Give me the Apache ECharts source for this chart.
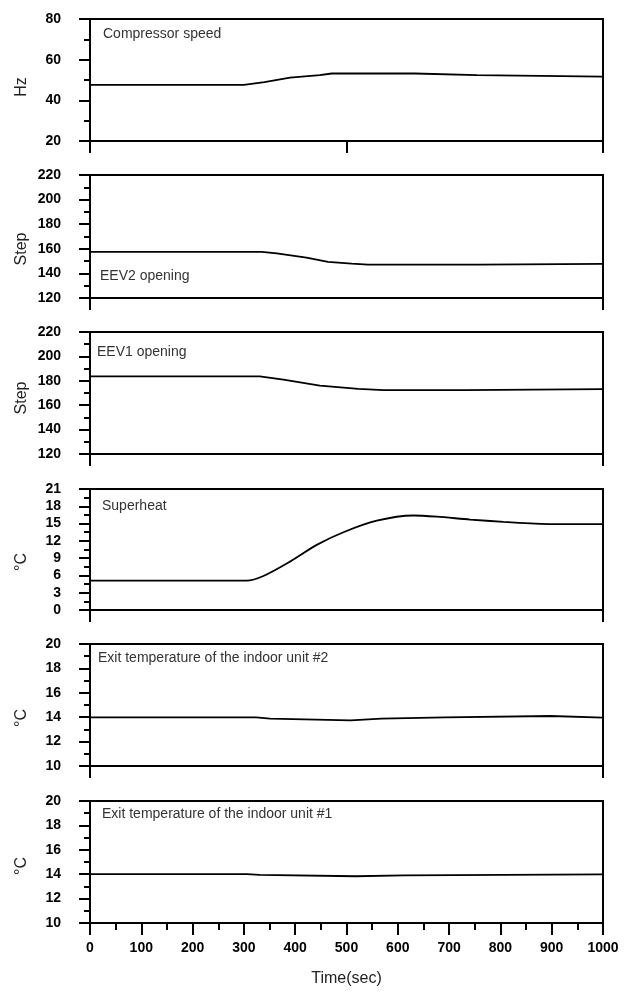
<!DOCTYPE html>
<html>
<head>
<meta charset="utf-8">
<title>Compressor / EEV response</title>
<script src="https://cdn.jsdelivr.net/npm/echarts@6/dist/echarts.min.js"></script>
<style>
  html, body { margin: 0; padding: 0; background: #fff; }
  #main { width: 628px; height: 992px; }
</style>
</head>
<body>
<div id="main"></div>
<script>
// values, time in sec
var speedTime = [0, 300, 340, 390, 448, 471, 633, 636, 754, 757, 1000];
var speedHz   = [47.6, 47.6, 49.0, 51.2, 52.4, 53.2, 53.2, 52.4, 52.4, 51.7, 51.7];

var eev2Time = [0, 335, 364, 422, 464, 510, 542, 758, 760, 1000];
var eev2Step = [157.5, 157.5, 156.2, 152.9, 149.3, 148.0, 147.2, 147.2, 147.7, 147.7];

var eev1Time = [0, 331, 377, 448, 523, 573, 728, 730, 1000];
var eev1Step = [183.7, 183.7, 181.0, 176.1, 173.4, 172.3, 172.3, 173.1, 173.1];

var shTime = [0, 305, 338, 390, 442, 494, 559, 630, 676, 741, 806, 858, 923, 1000];
var shTemp = [5.1, 5.1, 5.9, 8.4, 11.3, 13.5, 15.5, 16.4, 16.2, 15.7, 15.3, 15.05, 14.9, 14.9];

// the two exit temperatures move in small steps
var exit2Time = [0, 324, 324, 351, 351, 508, 508, 568, 568, 692, 692, 898, 898, 1000];
var exit2Temp = [13.98, 13.98, 13.88, 13.88, 13.74, 13.74, 13.88, 13.88, 13.98, 13.98, 14.1, 14.1, 13.96, 13.96];

var exit1Time = [0, 306, 306, 331, 331, 518, 518, 612, 612, 1000];
var exit1Temp = [14.0, 14.0, 13.95, 13.95, 13.83, 13.83, 13.91, 13.91, 13.99, 13.99];

function zip(t, v) {
  return t.map(function (x, i) { return [x, v[i]]; });
}

var panels = [
  { title: 'Compressor speed', unit: 'Hz', min: 20, max: 80, step: 20, data: zip(speedTime, speedHz),
    top: 19, h: 122, tx: 103, ty: 27, ny: 87 },
  { title: 'EEV2 opening', unit: 'Step', min: 120, max: 220, step: 20, data: zip(eev2Time, eev2Step),
    top: 175, h: 123, tx: 100, ty: 269, ny: 249 },
  { title: 'EEV1 opening', unit: 'Step', min: 120, max: 220, step: 20, data: zip(eev1Time, eev1Step),
    top: 332, h: 122, tx: 97, ty: 345, ny: 398 },
  { title: 'Superheat', unit: '°C', min: 0, max: 21, step: 3, data: zip(shTime, shTemp), smooth: 0.3,
    top: 489, h: 121, tx: 102, ty: 499, ny: 562 },
  { title: 'Exit temperature of the indoor unit #2', unit: '°C', min: 10, max: 20, step: 2,
    data: zip(exit2Time, exit2Temp), top: 644, h: 122, tx: 98, ty: 651, ny: 718 },
  { title: 'Exit temperature of the indoor unit #1', unit: '°C', min: 10, max: 20, step: 2,
    data: zip(exit1Time, exit1Temp), top: 801, h: 122, tx: 102, ty: 807, ny: 866 }
];

var sans = "'Liberation Sans', Arial, sans-serif";
var black = { color: '#000', width: 2 };

var grids = [], xAxes = [], yAxes = [], series = [], titles = [], texts = [];

panels.forEach(function (p, i) {
  var last = i === panels.length - 1;
  grids.push({ left: 90, width: 513, top: p.top, height: p.h, show: true,
    borderColor: '#000', borderWidth: 2, backgroundColor: 'transparent' });

  xAxes.push({
    type: 'value', gridIndex: i, min: 0, max: 1000,
    interval: last ? 100 : (i === 0 ? 500 : 1000),
    axisLine: { lineStyle: black },
    axisTick: { length: 12, lineStyle: black },
    minorTick: { show: last, splitNumber: 2, length: 7, lineStyle: black },
    splitLine: { show: false },
    axisLabel: { show: last, margin: 18, color: '#000', fontFamily: sans,
      fontWeight: 'bold', fontSize: 14,
      formatter: function (v) { return String(v); } },
    name: last ? 'Time(sec)' : '', nameLocation: 'middle', nameGap: 48,
    nameTextStyle: { color: '#222', fontSize: 16, fontFamily: sans }
  });

  yAxes.push({
    type: 'value', gridIndex: i, min: p.min, max: p.max, interval: p.step,
    axisLine: { show: true, lineStyle: black },
    axisTick: { length: 11, lineStyle: black },
    minorTick: { show: true, splitNumber: 2, length: 6, lineStyle: black },
    splitLine: { show: false },
    axisLabel: { margin: 29, color: '#000', fontFamily: sans, fontWeight: 'bold', fontSize: 14 }
  });

  series.push({
    type: 'line', xAxisIndex: i, yAxisIndex: i, data: p.data,
    showSymbol: false, smooth: p.smooth || false,
    lineStyle: { color: '#000', width: 1.8 }
  });

  titles.push({ text: p.title, left: p.tx, top: p.ty, padding: 0,
    textStyle: { fontSize: 14, fontWeight: 'normal', color: '#333', fontFamily: sans } });

  texts.push({ type: 'text', x: 22, y: p.ny, rotation: Math.PI / 2,
    style: { text: p.unit, align: 'center', verticalAlign: 'middle', fill: '#222',
      font: '16px ' + sans } });
});

var chart = echarts.init(document.getElementById('main'));
chart.setOption({
  animation: false,
  title: titles,
  grid: grids,
  xAxis: xAxes,
  yAxis: yAxes,
  series: series,
  graphic: texts
});
</script>
</body>
</html>
